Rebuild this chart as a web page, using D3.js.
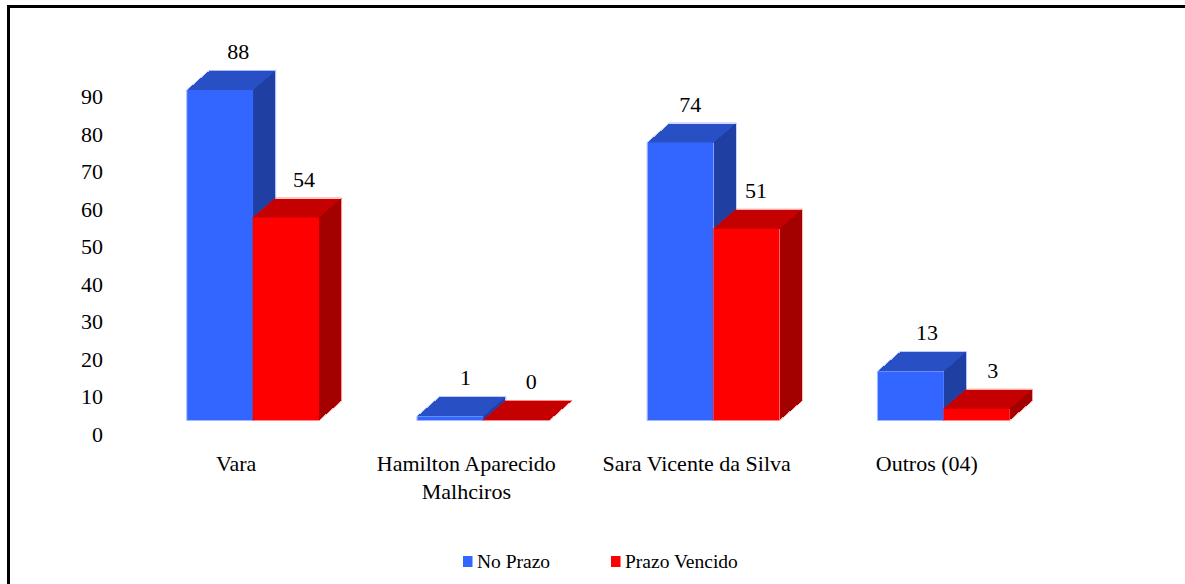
<!DOCTYPE html>
<html>
<head>
<meta charset="utf-8">
<script src="https://cdn.jsdelivr.net/npm/d3@7/dist/d3.min.js"></script>
<style>
  html, body { margin: 0; padding: 0; background: #fff; overflow: hidden; }
  text { font-family: "Liberation Serif", serif; fill: #000; }
</style>
</head>
<body>
<div class="container"></div>
<script>
const categories = ["Vara", "Hamilton Aparecido Malhciros", "Sara Vicente da Silva", "Outros (04)"];
const series = ["No Prazo", "Prazo Vencido"];
const noPrazo = [88, 1, 74, 13];
const prazoVencido = [54, 0, 51, 3];
const yTicks = [0, 10, 20, 30, 40, 50, 60, 70, 80, 90];
const catLines = [["Vara"], ["Hamilton Aparecido", "Malhciros"], ["Sara Vicente da Silva"], ["Outros (04)"]];

const width = 1185;
const height = 584;
const depthX = 22;
const depthY = 19;
const labelShift = 14;
// value labels do not sit quite over the bars in the original, per category
const labelNudge = [-4, -7, -12.5, -6];

const colors = {
  "No Prazo": { front: "#3366ff", top: "#2850c4", side: "#1f3fa3" },
  "Prazo Vencido": { front: "#ff0000", top: "#c40000", side: "#a30000" }
};

let svg = d3
  .select(".container")
  .append("svg")
  .attr("width", width)
  .attr("height", height)
  .style("display", "block");

// frame: only left and top show in the crop
svg
  .append("path")
  .attr("fill", "none")
  .attr("stroke", "#000")
  .attr("stroke-width", 3)
  .attr("d", `M8.5,${height} V6.5 H${width}`);

let x0 = d3
  .scaleBand()
  .domain(categories)
  .range([138, 1059])
  .paddingInner(0.427)
  .paddingOuter(0.2135);
let x1 = d3
  .scaleBand()
  .domain(series)
  .range([0, x0.bandwidth()]);
let y = d3
  .scaleLinear()
  .domain([0, 90])
  .range([420, 82.5]);

// tick labels only, the axis line and grid are not drawn
let yAxis = svg
  .append("g")
  .attr("transform", `translate(103,${labelShift})`)
  .call(d3.axisLeft(y).tickValues(yTicks).tickSize(0).tickPadding(0));
yAxis.select(".domain").remove();
yAxis
  .selectAll("text")
  .attr("font-size", 22)
  .attr("font-family", "Liberation Serif")
  .attr("fill", "#000");

const rows = categories.flatMap((c, i) => [
  { cat: c, i: i, s: series[0], value: noPrazo[i] },
  { cat: c, i: i, s: series[1], value: prazoVencido[i] }
]);

let bars = svg
  .append("g")
  .selectAll("g")
  .data(rows)
  .join("g");

// pale fringe around the whole block, the original has it from resampling
bars
  .append("path")
  .attr("fill", "none")
  .attr("stroke", d => colors[d.s].front)
  .attr("stroke-opacity", 0.45)
  .attr("stroke-width", 1)
  .attr("d", d => {
    let l = x0(d.cat) + x1(d.s), r = l + x1.bandwidth(), t = y(d.value), b = y(0);
    return `M${l - 0.5},${b + 0.5} V${t} L${l + depthX},${t - depthY - 0.5} H${r + depthX + 0.5} V${b - depthY} L${r},${b + 0.5} Z`;
  });
bars
  .append("path")
  .attr("fill", d => colors[d.s].top)
  .attr("shape-rendering", "crispEdges")
  .attr("d", d => {
    let l = x0(d.cat) + x1(d.s), r = l + x1.bandwidth(), t = y(d.value);
    return `M${l},${t} L${l + depthX},${t - depthY} H${r + depthX} L${r},${t} Z`;
  });
bars
  .append("path")
  .attr("fill", d => colors[d.s].side)
  .attr("shape-rendering", "crispEdges")
  .attr("d", d => {
    let r = x0(d.cat) + x1(d.s) + x1.bandwidth(), t = y(d.value), b = y(0);
    return `M${r},${t} L${r + depthX},${t - depthY} V${b - depthY} L${r},${b} Z`;
  });
bars
  .append("rect")
  .attr("fill", d => colors[d.s].front)
  .attr("x", d => x0(d.cat) + x1(d.s))
  .attr("y", d => y(d.value))
  .attr("width", x1.bandwidth())
  .attr("height", d => y(0) - y(d.value));

// value labels float above the top face
svg
  .append("g")
  .selectAll("text")
  .data(rows)
  .join("text")
  .attr("text-anchor", "middle")
  .attr("font-size", 22)
  .attr("x", d => x0(d.cat) + x1(d.s) + x1.bandwidth() / 2 + depthX + labelNudge[d.i])
  .attr("y", d => y(d.value) - depthY - 12)
  .text(d => d.value);

// category labels
let catG = svg
  .append("g")
  .selectAll("text")
  .data(categories)
  .join("text")
  .attr("text-anchor", "middle")
  .attr("font-size", 22)
  .attr("x", d => x0(d) + x0.bandwidth() / 2 - 17)
  .attr("y", 471);
catG
  .selectAll("tspan")
  .data((d, i) => catLines[i])
  .join("tspan")
  .attr("x", function() { return this.parentNode.getAttribute("x"); })
  .attr("dy", (d, i) => (i ? 28 : 0))
  .text(d => d);

// legend
const legendX = [463, 611];
let legend = svg
  .append("g")
  .selectAll("g")
  .data(series)
  .join("g")
  .attr("transform", (d, i) => `translate(${legendX[i]},556)`);
legend
  .append("rect")
  .attr("width", 9.5)
  .attr("height", 11)
  .attr("fill", d => colors[d].front);
legend
  .append("text")
  .attr("x", 14)
  .attr("y", 12)
  .attr("font-size", 19.5)
  .text(d => d);
</script>
</body>
</html>
